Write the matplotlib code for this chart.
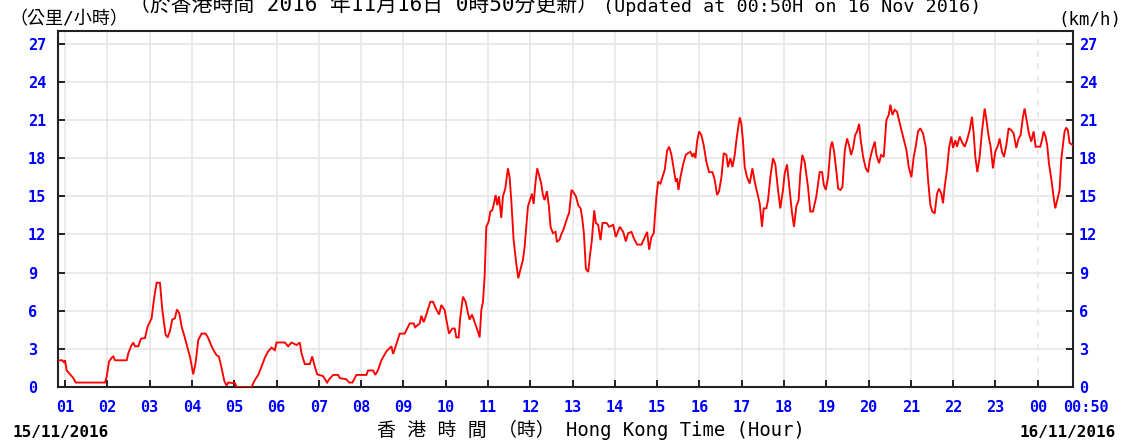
import matplotlib
matplotlib.use("Agg")
import matplotlib.pyplot as plt

# ---------------- data (hours since 00:00 15/11/2016, km/h) ----------------
hours_a = [0.833, 0.937, 0.984, 1.0, 1.039, 1.118, 1.197, 1.252, 1.551, 1.945, 1.984, 2.039, 2.102,
           2.142, 2.181, 2.457, 2.496, 2.559, 2.614, 2.654, 2.732, 2.795, 2.89, 2.953, 3.047, 3.102,
           3.165, 3.244, 3.299, 3.378, 3.425, 3.48, 3.535, 3.598, 3.646, 3.701, 3.756, 3.835, 3.898,
           3.953, 4.031, 4.087, 4.15, 4.228, 4.323, 4.386, 4.465, 4.528, 4.583, 4.638, 4.701, 4.764,
           4.819, 4.858, 5.016, 5.055, 5.409, 5.488, 5.567, 5.646, 5.724, 5.803, 5.882, 5.961, 6.0,
           6.197, 6.276, 6.354, 6.472, 6.551, 6.591, 6.669, 6.787, 6.843]
speed_a = [2.1, 2.1, 1.9, 2.1, 1.3, 1.0, 0.7, 0.35, 0.35, 0.35, 0.8, 2.0, 2.3,
           2.4, 2.1, 2.1, 2.65, 3.2, 3.5, 3.2, 3.2, 3.8, 3.85, 4.75, 5.4, 6.9,
           8.2, 8.2, 6.1, 4.1, 3.9, 4.4, 5.3, 5.4, 6.1, 5.8, 4.75, 3.85, 3.05,
           2.4, 1.0, 1.9, 3.7, 4.2, 4.2, 3.85, 3.2, 2.8, 2.5, 2.4, 1.5, 0.5,
           0.1, 0.35, 0.3, 0.0, 0.0, 0.55, 0.95, 1.6, 2.3, 2.8, 3.1, 2.9, 3.5,
           3.5, 3.2, 3.5, 3.3, 3.5, 2.65, 1.8, 1.8, 2.4]

hours_b = [6.906, 6.961, 7.102, 7.157, 7.197, 7.244, 7.339, 7.457, 7.496, 7.654, 7.717, 7.795, 7.89,
           8.126, 8.165, 8.283, 8.339, 8.402, 8.48, 8.598, 8.717, 8.756, 8.819, 8.913, 9.031, 9.15,
           9.244, 9.276, 9.386, 9.425, 9.48, 9.543, 9.638, 9.701, 9.764, 9.843, 9.898, 9.976, 10.016,
           10.079, 10.157, 10.213, 10.252, 10.307, 10.346, 10.409, 10.472, 10.528, 10.567, 10.622,
           10.685, 10.748, 10.803, 10.843, 10.882, 10.921, 10.961, 11.016, 11.055, 11.102, 11.142,
           11.181, 11.22, 11.26, 11.315, 11.354, 11.409, 11.472, 11.512, 11.551, 11.606, 11.669,
           11.717, 11.764, 11.827, 11.866, 11.906, 11.945, 11.984, 12.039, 12.079, 12.126, 12.165,
           12.22, 12.26, 12.299, 12.339, 12.394, 12.441, 12.48, 12.535, 12.598, 12.63, 12.693,
           12.732, 12.787, 12.835, 12.874, 12.92]
speed_b = [1.6, 1.0, 0.85, 0.55, 0.35, 0.6, 0.95, 0.95, 0.7, 0.6, 0.35, 0.35, 0.95,
           0.95, 1.3, 1.3, 0.95, 1.35, 2.1, 2.8, 3.2, 2.6, 3.2, 4.2, 4.2, 5.0,
           5.0, 4.7, 5.0, 5.6, 5.1, 5.7, 6.7, 6.7, 6.2, 5.7, 6.45, 6.05, 5.3,
           4.2, 4.6, 4.6, 3.9, 3.9, 5.5, 7.1, 6.7, 5.8, 5.3, 5.7,
           5.1, 4.5, 3.9, 6.05, 6.7, 8.7, 12.6, 13.0, 13.8, 13.9, 14.45,
           15.1, 14.3, 15.0, 13.3, 15.0, 15.6, 17.2, 16.5, 14.7, 11.6, 9.7,
           8.55, 9.2, 10.0, 11.0, 12.6, 14.2, 14.6, 15.2, 14.4, 16.15, 17.2,
           16.5, 16.0, 15.1, 14.7, 15.4, 14.2, 12.6, 12.1, 12.2, 11.4, 11.6,
           12.0, 12.4, 12.9, 13.3, 13.7]

hours_c = [12.976, 13.016, 13.079, 13.134, 13.189, 13.228, 13.268, 13.315, 13.37, 13.409, 13.457,
           13.488, 13.512, 13.551, 13.606, 13.661, 13.709, 13.803, 13.866, 13.961, 14.024, 14.118,
           14.197, 14.26, 14.315, 14.394, 14.449, 14.528, 14.63, 14.709, 14.764, 14.811, 14.866,
           14.921, 14.945, 14.984, 15.024, 15.079, 15.126, 15.181, 15.236, 15.283, 15.339, 15.394,
           15.441, 15.472, 15.504, 15.551, 15.614, 15.677, 15.732, 15.787, 15.835, 15.866, 15.906,
           15.945, 15.992, 16.047, 16.102, 16.165, 16.228, 16.307, 16.362, 16.417, 16.465, 16.52,
           16.575, 16.638, 16.677, 16.732, 16.78, 16.835, 16.874, 16.913, 16.953, 16.992, 17.031,
           17.071, 17.126, 17.189, 17.252, 17.307, 17.362, 17.425, 17.48, 17.52, 17.583, 17.622,
           17.677, 17.74, 17.795, 17.858, 17.913, 17.976, 18.016, 18.071, 18.134, 18.189, 18.236,
           18.291, 18.346, 18.386, 18.433, 18.488, 18.567, 18.622, 18.685, 18.764, 18.843]
speed_c = [15.5, 15.35, 15.0, 14.3, 14.05, 13.3, 12.1, 9.3, 9.05, 10.25, 11.55,
           12.9, 13.9, 12.9, 12.75, 11.55, 12.9, 12.9, 12.6, 12.75, 11.8, 12.6,
           12.2, 11.45, 12.1, 12.2, 11.7, 11.2, 11.2, 11.8, 12.2, 10.8, 11.8,
           12.1, 13.3, 15.0, 16.15, 16.0, 16.5, 17.1, 18.6, 18.9, 18.25, 17.1,
           16.15, 16.4, 15.5, 16.5, 17.5, 18.25, 18.4, 18.5, 18.1, 18.4, 18.0,
           19.3, 20.1, 19.8, 19.0, 17.7, 16.9, 16.9, 16.3, 15.1, 15.4, 16.5,
           18.4, 18.25, 17.3, 18.0, 17.3, 18.25, 19.4, 20.35, 21.2, 20.7, 19.3,
           17.3, 16.5, 16.0, 17.2, 16.15, 15.35, 14.45, 12.6, 14.05, 14.05, 14.7,
           16.5, 18.0, 17.5, 15.5, 14.05, 15.5, 16.8, 17.5, 15.5, 13.7, 12.6,
           14.2, 14.7, 16.8, 18.25, 17.7, 15.75, 13.8, 13.8, 15.0, 16.9]

hours_d = [18.90, 18.941, 18.988, 19.043, 19.098, 19.138, 19.185, 19.24, 19.28, 19.335, 19.382,
           19.437, 19.492, 19.539, 19.587, 19.634, 19.681, 19.728, 19.776, 19.815, 19.87, 19.933,
           19.988, 20.028, 20.083, 20.146, 20.185, 20.248, 20.295, 20.358, 20.421, 20.476, 20.516,
           20.563, 20.618, 20.673, 20.736, 20.815, 20.894, 20.949, 21.012, 21.067, 21.114, 21.169,
           21.224, 21.287, 21.35, 21.406, 21.461, 21.508, 21.563, 21.618, 21.665, 21.72, 21.76,
           21.799, 21.854, 21.902, 21.957, 21.996, 22.051, 22.091, 22.154, 22.217, 22.272, 22.327,
           22.39, 22.445, 22.484, 22.524, 22.571, 22.626, 22.681, 22.744, 22.783, 22.839, 22.886,
           22.941, 22.996, 23.059, 23.098, 23.154, 23.201, 23.256, 23.311, 23.374, 23.429, 23.492,
           23.547, 23.594, 23.65, 23.689, 23.744, 23.791, 23.846, 23.902, 23.949, 24.004, 24.059,
           24.098, 24.138, 24.185, 24.224, 24.264, 24.319, 24.374, 24.413, 24.461, 24.516, 24.555,
           24.594, 24.634, 24.673, 24.713, 24.752, 24.833]
speed_d = [16.9, 15.9, 15.5, 16.5, 18.8, 19.3, 18.5, 16.9, 15.6, 15.5, 15.75,
           18.6, 19.55, 19.0, 18.25, 18.8, 19.8, 20.1, 20.7, 19.4, 18.1, 17.2,
           16.9, 17.85, 18.6, 19.3, 18.25, 17.6, 18.25, 18.1, 21.0, 21.4, 22.2,
           21.4, 21.8, 21.65, 20.75, 19.7, 18.65, 17.3, 16.5, 18.1, 18.9, 20.1,
           20.35, 19.95, 18.9, 16.3, 14.3, 13.8, 13.65, 15.2, 15.6, 15.2, 14.45,
           15.75, 17.1, 18.8, 19.7, 18.8, 19.4, 18.9, 19.7, 19.2, 18.9, 19.4,
           20.2, 21.25, 19.95, 18.1, 16.9, 18.1, 20.1, 21.9, 21.1, 19.7, 18.9,
           17.2, 18.5, 19.0, 19.55, 18.5, 18.1, 19.0, 20.35, 20.2, 19.95, 18.8,
           19.55, 19.8, 21.25, 21.9, 20.85, 19.95, 19.3, 20.1, 18.9, 18.9, 18.9,
           19.4, 20.1, 19.7, 19.0, 17.6, 16.4, 14.95, 14.05, 14.7, 15.5, 17.85,
           19.0, 20.1, 20.4, 20.2, 19.2, 19.0]

hours = hours_a + hours_b + hours_c + hours_d
speed = speed_a + speed_b + speed_c + speed_d

x_ticks = list(range(1, 25))
x_tick_labels = ["%02d" % (h % 24) for h in x_ticks]
y_ticks = list(range(0, 28, 3))
t_start = 50 / 60
t_end = 24 + 50 / 60

title_zh = "（於香港時間 2016 年11月16日 0時50分更新）"
title_en = "(Updated at 00:50H on 16 Nov 2016)"
unit_zh = "（公里/小時）"
unit_en = "(km/h)"
xlabel_text = "香 港 時 間 （時） Hong Kong Time (Hour)"
date_left = "15/11/2016"
date_right = "16/11/2016"
end_label = "00:50"

# ---------------- figure ----------------
W, H = 1126, 441
fig = plt.figure(figsize=(W / 100, H / 100), dpi=100)
fig.patch.set_facecolor("white")
ax = fig.add_axes([58 / W, 54 / H, (1073 - 58) / W, (387 - 31) / H])
ax.set_xlim(t_start, t_end)
ax.set_ylim(0, 28)

grid_c = "#e4e4e4"
for yv in y_ticks[1:]:
    ax.axhline(yv, color=grid_c, lw=1.1, zorder=0)
for h in x_ticks:
    if h == 24:
        ax.axvline(h, color=grid_c, lw=1.1, ls=(0, (4, 4)), zorder=0)
    else:
        ax.axvline(h, color=grid_c, lw=1.1, zorder=0)

ax.plot(hours, speed, color="#ff0000", lw=1.35, zorder=3, solid_joinstyle="miter")

for s in ax.spines.values():
    s.set_color("#222222")
    s.set_linewidth(1.5)

mono_b = dict(family="DejaVu Sans Mono", weight="bold", size=11, color="#0000ff")

ax.set_xticks(x_ticks)
ax.set_xticklabels(x_tick_labels, **mono_b)
ax.set_yticks(y_ticks)
ax.set_yticklabels([str(v) for v in y_ticks], **mono_b)
ax.tick_params(axis="x", direction="in", length=5, width=1.4, color="#222222", pad=9)
ax.tick_params(axis="y", direction="in", length=5, width=1.4, color="#222222", pad=21.6)
for lbl in ax.get_yticklabels():
    lbl.set_horizontalalignment("left")

ax2 = ax.twinx()
ax2.set_ylim(0, 28)
ax2.set_yticks(y_ticks)
ax2.set_yticklabels([str(v) for v in y_ticks], **mono_b)
ax2.tick_params(axis="y", direction="in", length=5, width=1.4, color="#222222", pad=4.3)
for s in ax2.spines.values():
    s.set_visible(False)

fig.text(1086 / W, 1 - 399.5 / H, end_label, ha="center", va="top", **mono_b)

fam = ["DejaVu Sans Mono", "Noto Sans CJK TC"]
fig.text(598 / W, 1 - 11.5 / H, title_zh, ha="right", va="baseline", family=fam, size=15, color="black")
fig.text(603 / W, 1 - 11.5 / H, title_en, ha="left", va="baseline", family=fam, size=13.2, color="black")
fig.text(9 / W, 1 - 19 / H, unit_zh, ha="left", va="center", family=fam, size=13, color="black")
fig.text(1121 / W, 1 - 20 / H, unit_en, ha="right", va="center", family=fam, size=12.5, color="black")

fig.text(591 / W, 1 - 430 / H, xlabel_text, ha="center", va="center", family=fam, size=13.6, color="black")
fig.text(12 / W, 1 - 432 / H, date_left, ha="left", va="center", family="DejaVu Sans Mono", weight="bold", size=11.5, color="black")
fig.text(1116 / W, 1 - 432 / H, date_right, ha="right", va="center", family="DejaVu Sans Mono", weight="bold", size=11.5, color="black")

fig.savefig("out.png", dpi=100, facecolor="white")
